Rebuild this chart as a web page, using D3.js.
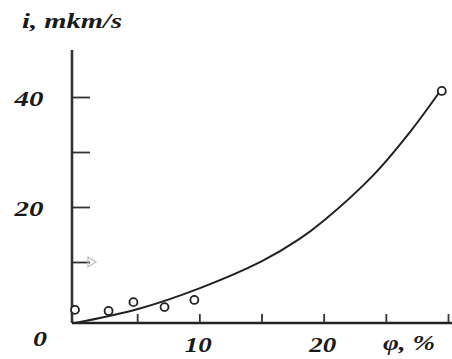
<!DOCTYPE html>
<html>
<head>
<meta charset="utf-8">
<script src="https://cdn.jsdelivr.net/npm/d3@7"></script>
<style>
  body { margin: 0; background: #fff; }
  svg { display: block; }
  .lbl { font-family: "Liberation Serif", "DejaVu Serif", serif; font-weight: bold; font-style: italic; fill: #1a1a1a; }
</style>
</head>
<body>
<svg id="chart" width="452" height="359"></svg>
<script>
// measured points (phi %, i mkm/s)
var pointPhi = [0, 2.7, 4.7, 7.2, 9.6, 29.5];
var pointI = [1.3, 1.1, 2.7, 1.8, 3.1, 41.1];

// fitted curve
var curvePhi = [0, 5, 10, 15, 18, 20, 24, 27, 29.5];
var curveI = [-1.1, 1.4, 5.2, 10.1, 14.1, 17.5, 25.8, 33.8, 41.5];

var xTicks = [5, 10, 15, 20, 25, 30];
var yTicks = [10, 20, 30, 40];
var xLabels = [10, 20];
var yLabels = [20, 40];

var svg = d3.select("#chart");
var x = d3.scaleLinear().domain([0, 30]).range([75, 448]);
var y = d3.scaleLinear().domain([0, 40]).range([317, 97]);

var axisX = 72, axisY = y(-1.1);

// axis lines
svg.append("line").attr("x1", axisX).attr("y1", 50).attr("x2", axisX).attr("y2", axisY)
  .attr("stroke", "#333").attr("stroke-width", 2.6);
svg.append("line").attr("x1", axisX).attr("y1", axisY).attr("x2", 452).attr("y2", axisY)
  .attr("stroke", "#222").attr("stroke-width", 2.6);

// ticks
var gx = svg.append("g").attr("transform", "translate(0," + axisY + ")")
  .call(d3.axisBottom(x).tickValues(xTicks).tickSize(-9).tickFormat(""));
gx.select(".domain").remove();
gx.selectAll(".tick line").attr("stroke", "#333").attr("stroke-width", 1.8);

var gy = svg.append("g").attr("transform", "translate(" + axisX + ",0)")
  .call(d3.axisLeft(y).tickValues(yTicks).tickSize(-18).tickFormat(""));
gy.select(".domain").remove();
gy.selectAll(".tick line").attr("stroke", "#333").attr("stroke-width", 1.8);

// faint arrow mark at the 10 tick
svg.append("path")
  .attr("d", "M" + (axisX + 16) + "," + (y(10) - 5) + "l8,5l-8,5z")
  .attr("fill", "none").attr("stroke", "#bbb").attr("stroke-width", 1.2);

// curve
var line = d3.line().x(function(d) { return x(d[0]); }).y(function(d) { return y(d[1]); })
  .curve(d3.curveCatmullRom);
svg.append("path").datum(d3.zip(curvePhi, curveI)).attr("d", line)
  .attr("fill", "none").attr("stroke", "#222").attr("stroke-width", 2);

// points
svg.selectAll("circle.pt").data(d3.zip(pointPhi, pointI)).enter().append("circle")
  .attr("class", "pt")
  .attr("cx", function(d) { return x(d[0]); })
  .attr("cy", function(d) { return y(d[1]); })
  .attr("r", 4).attr("fill", "#fff").attr("stroke", "#222").attr("stroke-width", 1.8);

// labels
function label(txt, cx, base, w) {
  svg.append("text").attr("class", "lbl").attr("x", cx - w / 2).attr("y", base)
    .attr("font-size", 21).attr("textLength", w).attr("lengthAdjust", "spacingAndGlyphs")
    .text(txt);
}
label("i, mkm/s", 72, 28, 100);
yLabels.forEach(function(v) { label(String(v), 29, y(v) + 9, 29); });
label("0", 40, 346, 14);
xLabels.forEach(function(v) { label(String(v), x(v) - 1, 352, 27); });
label("\u03c6, %", 409, 350, 52);
</script>
</body>
</html>
